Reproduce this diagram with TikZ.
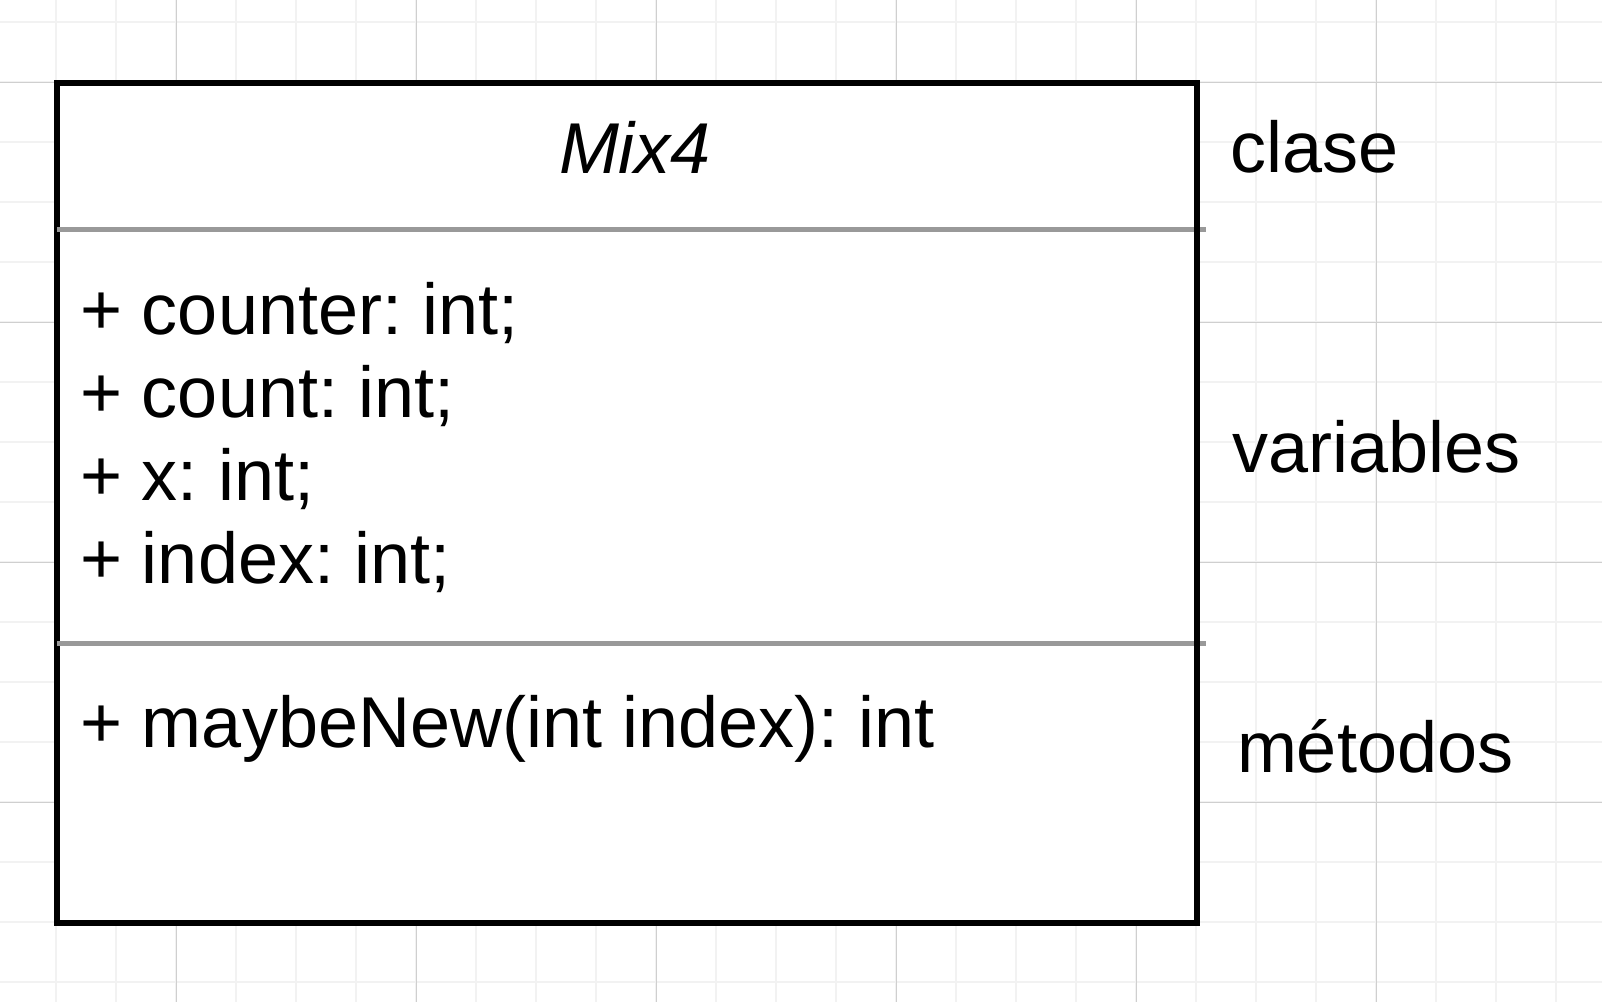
\documentclass[tikz,border=0pt]{standalone}
\usepackage{fontspec}
\setmainfont{Liberation Sans}
\frenchspacing
\begin{document}
\begin{tikzpicture}[x=1pt,y=-1pt,
  minorgrid/.style={draw=black!5, line width=2pt},
  majorgrid/.style={draw=black!19, line width=1pt},
  classbox/.style={draw=black, fill=white, line width=6pt, minimum width=1140pt, minimum height=840pt, inner sep=0pt, outer sep=0pt},
  divider/.style={draw=black!40, line width=5pt},
  txt/.style={inner sep=0pt, outer sep=0pt, anchor=base west, font=\fontsize{72}{86}\selectfont\frenchspacing},
  ttl/.style={inner sep=0pt, outer sep=0pt, anchor=base, font=\fontsize{72}{86}\selectfont\itshape}]
\useasboundingbox (0,0) rectangle (1602,1002);
\fill[white] (0,0) rectangle (1602,1002);
% grid
\foreach \i in {0,...,25} { \draw[minorgrid] (56+60*\i,0) -- (56+60*\i,1002); }
\foreach \j in {0,...,16} { \draw[minorgrid] (0,22+60*\j) -- (1602,22+60*\j); }
\foreach \i in {0,...,5} { \draw[majorgrid] (176+240*\i,0) -- (176+240*\i,1002); }
\foreach \j in {0,...,3} { \draw[majorgrid] (0,82+240*\j) -- (1602,82+240*\j); }
% class box
\node[classbox] (box) at (627,503) {};
\coordinate (d1a) at (57,229);
\coordinate (d1b) at (1206,229);
\coordinate (d2a) at (57,643);
\coordinate (d2b) at (1206,643);
\draw[divider] (d1a) -- (d1b);
\draw[divider] (d2a) -- (d2b);
\draw[line width=6pt] (box.north east) -- (box.south east);
% texts
\node[ttl] (title) at (635,173) {Mix4};
\node[txt] (v1) at (80,334) {+ counter: int;};
\node[txt] (v2) at (80,417) {+ count: int;};
\node[txt] (v3) at (80,500) {+ x: int;};
\node[txt] (v4) at (80,583) {+ index: int;};
\node[txt] (m1) at (80,747) {+ maybeNew(int index): int};
\node[txt] (lc) at (1230,172) {clase};
\node[txt] (lv) at (1232,472) {variables};
\node[txt] (lm) at (1237,772) {métodos};
\end{tikzpicture}
\end{document}
